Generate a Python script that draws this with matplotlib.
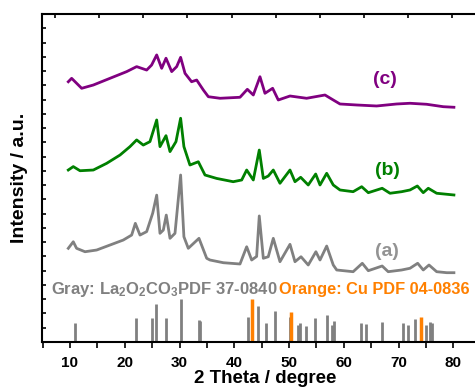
import matplotlib
matplotlib.use("Agg")
import matplotlib.pyplot as plt
import numpy as np

plt.rcParams['font.family'] = ['Liberation Sans', 'DejaVu Sans']
plt.rcParams['font.weight'] = 'bold'
plt.rcParams['mathtext.fontset'] = 'custom'
plt.rcParams['mathtext.rm'] = 'Liberation Sans:bold'
plt.rcParams['mathtext.it'] = 'Liberation Sans:bold'
plt.rcParams['mathtext.bf'] = 'Liberation Sans:bold'
plt.rcParams['mathtext.default'] = 'rm'

# ---- data (stacked, offset units on the intensity axis) ----
a_x = [9.69, 10.6, 11.2, 12.74, 14.87, 17.3, 19.73, 21.26, 21.93, 22.78, 24.0, 25.1,
       25.83, 26.43, 27.04, 27.58, 28.26, 29.17, 30.2, 30.8, 31.6, 33.55, 34.96,
       35.56, 38.0, 41.04, 42.26, 43.17, 44.08, 44.56, 45.3, 46.2, 47.12, 48.34, 50.17,
       51.08, 52.18, 53.5, 54.9, 55.65, 56.87, 58.07, 58.7, 61.7, 63.37, 64.47, 67.0,
       68.1, 70.56, 72.08, 73.48, 74.5, 75.55, 76.95, 78.8, 80.1]
a_y = [6.57, 7.03, 6.57, 6.33, 6.45, 6.8, 7.15, 7.5, 8.32, 7.5, 7.74, 9.03,
       10.3, 7.62, 7.85, 8.9, 7.27, 7.62, 11.71, 7.38, 6.57, 7.27, 5.87,
       5.75, 5.56, 5.47, 6.68, 5.75, 6.0, 8.84, 5.87, 5.98, 7.27, 5.63, 6.85,
       5.63, 5.98, 5.4, 6.33, 5.75, 6.73, 5.4, 5.05, 4.93, 5.52, 5.0, 5.33,
       4.93, 5.05, 5.17, 5.52, 5.05, 5.4, 4.93, 4.86, 4.86]

b_x = [9.69, 10.6, 11.83, 14.26, 16.7, 19.13, 20.95, 22.17, 23.38, 24.6, 25.83, 26.43,
       27.53, 28.26, 29.35, 30.2, 30.8, 31.9, 33.43, 34.65, 36.78, 39.8, 41.35, 42.26,
       43.47, 44.56, 45.3, 46.2, 47.12, 48.34, 50.17, 51.08, 52.12, 53.5, 54.86, 55.65,
       56.87, 58.07, 59.3, 61.7, 63.26, 64.47, 67.0, 68.43, 70.56, 72.08, 73.42, 74.5,
       75.42, 76.95, 80.1]
b_y = [12.06, 12.3, 12.01, 12.06, 12.53, 13.11, 13.7, 14.17, 13.81, 14.05, 15.57, 13.7,
       14.47, 13.35, 14.05, 15.69, 13.7, 12.41, 12.64, 11.71, 11.47, 11.24, 11.36, 12.06,
       11.36, 13.46, 11.47, 11.64, 12.06, 11.13, 12.06, 11.24, 11.55, 11.01, 11.78, 11.01,
       11.83, 11.01, 10.66, 10.54, 10.89, 10.47, 10.78, 10.43, 10.54, 10.66, 10.94, 10.47,
       10.78, 10.43, 10.31]

c_x = [9.69, 10.3, 12.13, 14.26, 17.3, 20.35, 22.17, 24.0, 24.9, 25.83, 26.74, 27.53,
       28.57, 29.48, 30.2, 31.0, 32.2, 33.13, 34.35, 35.26, 37.4, 41.04, 42.38, 43.47,
       44.69, 45.6, 47.0, 48.03, 50.17, 53.2, 56.56, 58.07, 59.3, 62.34, 65.99, 69.64,
       72.08, 75.12, 78.16, 80.1]
c_y = [18.25, 18.49, 17.79, 18.02, 18.49, 18.96, 19.31, 19.07, 19.42, 20.13, 19.19, 19.9,
       18.96, 19.31, 19.96, 18.84, 18.25, 18.37, 17.67, 17.2, 17.09, 17.16, 17.72, 17.32,
       18.6, 17.44, 17.79, 16.97, 17.25, 17.09, 17.32, 16.97, 16.69, 16.62, 16.55, 16.69,
       16.74, 16.67, 16.5, 16.46]

gray_pos = [10.9, 22.05, 25.03, 25.64, 27.47, 30.27, 33.49, 33.8, 42.44, 44.27, 45.79,
            47.37, 50.11, 51.69, 52.06, 53.03, 54.67, 56.87, 57.84, 58.2, 63.13, 63.99,
            67.03, 70.8, 71.65, 73.05, 74.94, 75.73, 76.16]
gray_h = [1.33, 1.68, 1.68, 2.66, 1.68, 3.0, 1.54, 1.45, 1.77, 2.54, 1.33,
          2.17, 1.77, 1.2, 1.33, 1.15, 1.68, 1.87, 1.2, 1.45, 1.3, 1.26,
          1.4, 1.33, 1.2, 1.6, 1.2, 1.4, 1.33]
cu_pos = [43.3, 50.4, 74.1]
cu_h = [3.0, 2.1, 1.72]

labels = ['(a)', '(b)', '(c)']
xticks = [10, 20, 30, 40, 50, 60, 70, 80]

col_a = '#808080'
col_b = '#008000'
col_c = '#800080'
col_cu = '#FF8000'

fig = plt.figure(figsize=(4.75, 3.91), dpi=100)
ax = fig.add_axes([0.0874, 0.1253, 0.9126, 0.8389])

ax.plot(a_x, a_y, color=col_a, lw=2.0, solid_joinstyle='round')
ax.plot(b_x, b_y, color=col_b, lw=2.0, solid_joinstyle='round')
ax.plot(c_x, c_y, color=col_c, lw=2.0, solid_joinstyle='round')

ax.vlines(gray_pos, 0, gray_h, color=col_a, lw=2)
ax.vlines(cu_pos, 0, cu_h, color=col_cu, lw=2.5)

ax.text(67.8, 6.33, labels[0], color='#939393', fontsize=14, ha='center', va='center')
ax.text(67.9, 12.0, labels[1], color=col_b, fontsize=14, ha='center', va='center')
ax.text(67.5, 18.4, labels[2], color=col_c, fontsize=14, ha='center', va='center')

ax.text(6.5, 3.65, r'Gray: La$_2$O$_2$CO$_3$PDF 37-0840', color=col_a,
        fontsize=12, ha='left', va='center')
ax.text(83.0, 3.65, 'Orange: Cu PDF 04-0836', color=col_cu,
        fontsize=11.8, ha='right', va='center')

ax.set_xlim(4.8, 83.95)
ax.set_ylim(0, 23.0)
ax.set_xticks(xticks)
ax.set_xticks(np.arange(5, 84, 5), minor=True)
ax.set_yticks(np.arange(0, 23.5, 1))
ax.set_yticklabels([])
ax.tick_params(axis='x', which='both', direction='out', length=4, width=1.2,
               labelsize=11, pad=6, top=False)
ax.tick_params(axis='y', which='both', direction='in', length=3, width=1.2, right=False)
for lab in ax.get_xticklabels():
    lab.set_fontweight('bold')

ax.spines['right'].set_visible(False)
for s in ['left', 'bottom', 'top']:
    ax.spines[s].set_linewidth(1.5)

ax2 = ax.twiny()
ax2.set_xlim(ax.get_xlim())
ax2.set_xticks(np.arange(7.3, 84, 8.05))
ax2.set_xticklabels([])
ax2.tick_params(axis='x', direction='in', length=3, width=1.2)
for s in ax2.spines.values():
    s.set_visible(False)

ax.set_xlabel('2 Theta / degree', fontsize=13.5, fontweight='bold', labelpad=1)
ax.xaxis.set_label_coords(0.5156, -0.085)
ax.set_ylabel('Intensity / a.u.', fontsize=14, fontweight='bold')
ax.yaxis.set_label_coords(-0.031, 0.50)

fig.savefig('out.png', dpi=100)
